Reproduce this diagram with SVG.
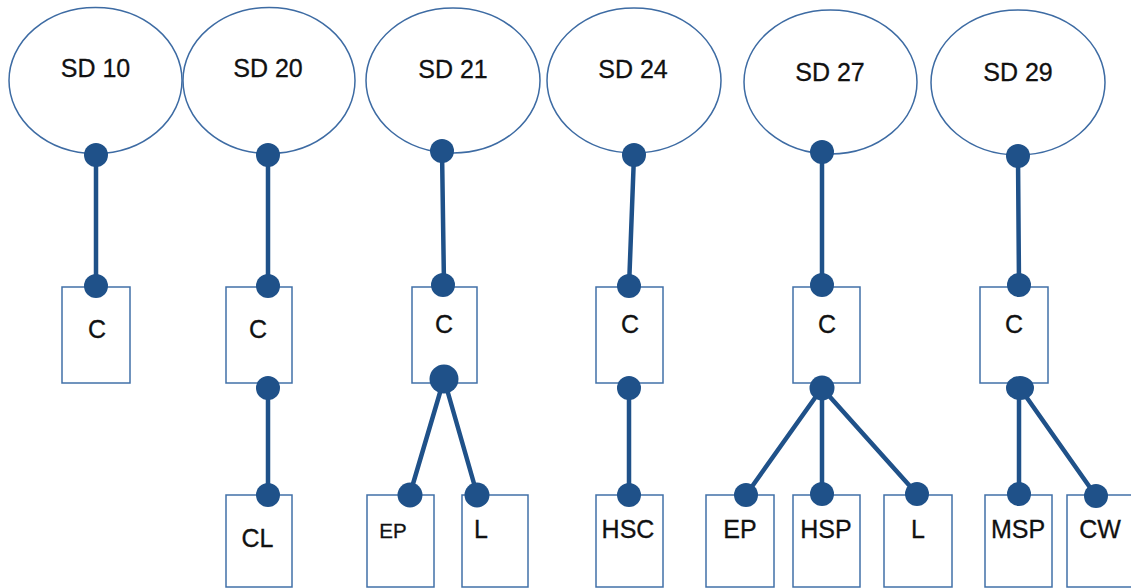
<svg xmlns="http://www.w3.org/2000/svg" width="1131" height="588" viewBox="0 0 1131 588">
<style>
.bg{fill:#ffffff}
.sd{fill:#ffffff;stroke:#3d6ba3;stroke-width:1.5}
.bx{fill:#ffffff;stroke:#4170a8;stroke-width:1.5}
.t{font-family:"Liberation Sans",Arial,sans-serif;font-size:25px;fill:#111111;stroke:#111111;stroke-width:0.3;text-anchor:middle}
.ts{font-size:20.5px}
.ln{stroke:#1f5189;stroke-width:4.5;stroke-linecap:round;fill:none}
.dt{fill:#1f5189}
</style>
<rect class="bg" x="0" y="0" width="1131" height="588"/>
<g id="sd10"><ellipse class="sd" cx="95.5" cy="80.5" rx="86.5" ry="73"/><text class="t" x="95.5" y="77">SD 10</text></g>
<g id="sd20"><ellipse class="sd" cx="269" cy="80.5" rx="86" ry="73"/><text class="t" x="268" y="77">SD 20</text></g>
<g id="sd21"><ellipse class="sd" cx="453" cy="80.5" rx="87" ry="72.5"/><text class="t" x="453" y="78">SD 21</text></g>
<g id="sd24"><ellipse class="sd" cx="634" cy="80.5" rx="87" ry="72.5"/><text class="t" x="633" y="78">SD 24</text></g>
<g id="sd27"><ellipse class="sd" cx="830.5" cy="82" rx="86.5" ry="72"/><text class="t" x="830" y="81">SD 27</text></g>
<g id="sd29"><ellipse class="sd" cx="1018" cy="82.5" rx="87" ry="72.5"/><text class="t" x="1018" y="81">SD 29</text></g>

<g id="c10"><rect class="bx" x="62" y="287" width="68" height="96"/><text class="t" x="97" y="338">C</text></g>
<g id="c20"><rect class="bx" x="226" y="287" width="66" height="96"/><text class="t" x="258" y="338">C</text></g>
<g id="cl20"><rect class="bx" x="226" y="495" width="66" height="92"/><text class="t" x="257.5" y="547">CL</text></g>
<g id="c21"><rect class="bx" x="412" y="287" width="65" height="96"/><text class="t" x="444" y="333">C</text></g>
<g id="ep21"><rect class="bx" x="367" y="495" width="67" height="92"/><text class="t ts" x="393" y="538">EP</text></g>
<g id="l21"><rect class="bx" x="462" y="495" width="66" height="92"/><text class="t" x="481" y="538">L</text></g>
<g id="c24"><rect class="bx" x="596" y="287" width="67" height="96"/><text class="t" x="630" y="333">C</text></g>
<g id="hsc24"><rect class="bx" x="596" y="495" width="67" height="92"/><text class="t" x="628" y="538">HSC</text></g>
<g id="c27"><rect class="bx" x="793" y="287" width="67" height="96"/><text class="t" x="827" y="333">C</text></g>
<g id="ep27"><rect class="bx" x="706" y="495" width="68" height="92"/><text class="t" x="740" y="538">EP</text></g>
<g id="hsp27"><rect class="bx" x="793" y="495" width="67" height="92"/><text class="t" x="826" y="538">HSP</text></g>
<g id="l27"><rect class="bx" x="884" y="495" width="68" height="92"/><text class="t" x="918" y="538">L</text></g>
<g id="c29"><rect class="bx" x="980" y="287" width="68" height="96"/><text class="t" x="1014" y="333">C</text></g>
<g id="msp29"><rect class="bx" x="985" y="495" width="67" height="92"/><text class="t" x="1018" y="538">MSP</text></g>
<g id="cw29"><rect class="bx" x="1067" y="495" width="68" height="92"/><text class="t" x="1100" y="538">CW</text></g>

<g id="connectors">
<line class="ln" x1="96" y1="155" x2="96" y2="287"/>
<line class="ln" x1="268" y1="155" x2="268" y2="287"/>
<line class="ln" x1="268" y1="388" x2="268" y2="495"/>
<line class="ln" x1="442" y1="150" x2="444" y2="285"/>
<line class="ln" x1="444" y1="379" x2="410" y2="494"/>
<line class="ln" x1="444" y1="379" x2="477" y2="494"/>
<line class="ln" x1="634" y1="155" x2="629" y2="287"/>
<line class="ln" x1="629" y1="388" x2="629" y2="495"/>
<line class="ln" x1="822" y1="152" x2="822" y2="285"/>
<line class="ln" x1="822" y1="388" x2="746" y2="495"/>
<line class="ln" x1="822" y1="388" x2="822" y2="494"/>
<line class="ln" x1="822" y1="388" x2="917" y2="494"/>
<line class="ln" x1="1018" y1="156" x2="1019" y2="285"/>
<line class="ln" x1="1019" y1="388" x2="1019" y2="494"/>
<line class="ln" x1="1020" y1="388" x2="1096" y2="496"/>
<circle class="dt" cx="96" cy="155" r="12"/>
<circle class="dt" cx="96" cy="286" r="12"/>
<circle class="dt" cx="268" cy="155" r="12"/>
<circle class="dt" cx="268" cy="286" r="12"/>
<circle class="dt" cx="268" cy="388" r="12"/>
<circle class="dt" cx="268" cy="495" r="12"/>
<circle class="dt" cx="442" cy="151" r="12"/>
<circle class="dt" cx="443" cy="285" r="12"/>
<circle class="dt" cx="444" cy="379" r="14.5"/>
<circle class="dt" cx="410" cy="495" r="12.5"/>
<circle class="dt" cx="477" cy="495" r="12.5"/>
<circle class="dt" cx="634" cy="155" r="12"/>
<circle class="dt" cx="629" cy="286" r="12"/>
<circle class="dt" cx="629" cy="388" r="12"/>
<circle class="dt" cx="629" cy="495" r="12"/>
<circle class="dt" cx="822" cy="152" r="12"/>
<circle class="dt" cx="822" cy="285" r="12"/>
<circle class="dt" cx="822" cy="388" r="12.5"/>
<circle class="dt" cx="746" cy="495" r="12"/>
<circle class="dt" cx="822" cy="494" r="12"/>
<circle class="dt" cx="917" cy="494" r="12"/>
<circle class="dt" cx="1018" cy="156" r="12"/>
<circle class="dt" cx="1019" cy="285" r="12"/>
<ellipse class="dt" cx="1020" cy="388" rx="14" ry="12"/>
<circle class="dt" cx="1019" cy="494" r="12"/>
<circle class="dt" cx="1096" cy="496" r="12"/>
</g>
</svg>
